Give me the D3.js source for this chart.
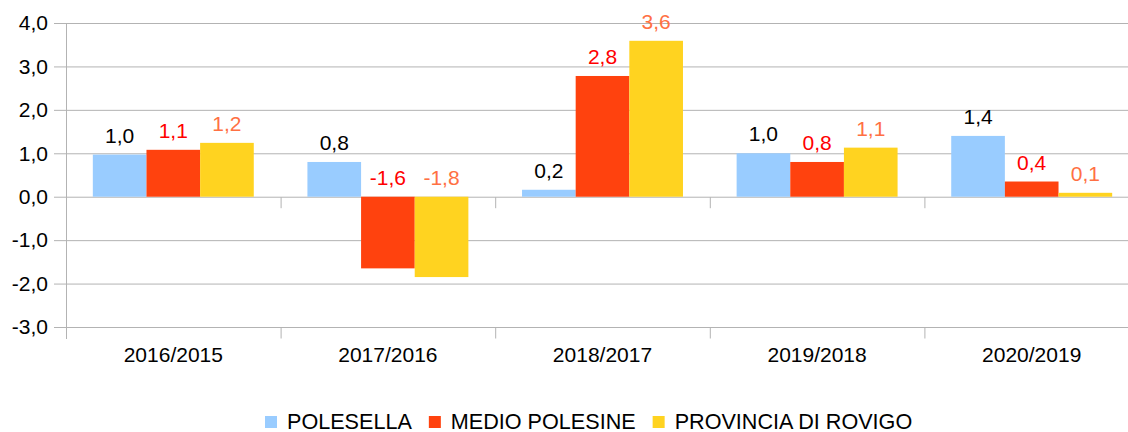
<!DOCTYPE html>
<html>
<head>
<meta charset="utf-8">
<script src="https://cdn.jsdelivr.net/npm/d3@7"></script>
<style>
  body { margin: 0; background: #fff; }
  text { font-family: "Liberation Sans", Arial, sans-serif; }
</style>
</head>
<body>
<script>
var categories = ["2016/2015", "2017/2016", "2018/2017", "2019/2018", "2020/2019"];
var seriesNames = ["POLESELLA", "MEDIO POLESINE", "PROVINCIA DI ROVIGO"];
var polesella = [0.97, 0.8, 0.16, 1.0, 1.4];
var medioPolesine = [1.08, -1.65, 2.78, 0.8, 0.35];
var provinciaRovigo = [1.24, -1.85, 3.59, 1.13, 0.09];
var labels = [
	["1,0", "0,8", "0,2", "1,0", "1,4"],
	["1,1", "-1,6", "2,8", "0,8", "0,4"],
	["1,2", "-1,8", "3,6", "1,1", "0,1"]
];
var yTicks = [-3, -2, -1, 0, 1, 2, 3, 4];

var barColors = ["#99ccff", "#ff420e", "#ffd320"];
var labelColors = ["#000000", "#ff0000", "#ff7043"];

var width = 1128,
	height = 432,
	plotLeft = 66,
	plotRight = 1139,
	plotTop = 23,
	plotBottom = 327;

var allSeries = [polesella, medioPolesine, provinciaRovigo];

var svg = d3.select("body").append("svg")
	.attr("width", width)
	.attr("height", height);

var x = d3.scaleBand(categories, [plotLeft, plotRight]).padding(0);
var x1 = d3.scaleBand(seriesNames, [0, x.bandwidth()]).paddingInner(0).paddingOuter(0.5);
var y = d3.scaleLinear([-3, 4], [plotBottom, plotTop]);
var xEdge = d3.scaleLinear([0, categories.length], [plotLeft, plotRight]);

// grid + y axis
var yAxis = svg.append("g")
	.attr("transform", "translate(" + plotLeft + ",0)")
	.call(d3.axisLeft(y).tickValues(yTicks).tickSize(12)
		.tickFormat(function(d) { return d3.format(".1f")(d).replace(".", ",").replace("−", "-"); }));
yAxis.select(".domain").remove();
yAxis.selectAll(".tick line").attr("stroke", "#b3b3b3");
yAxis.selectAll(".tick text")
	.attr("x", -18)
	.attr("font-size", 21)
	.attr("fill", "#000")
	.style("font-family", "'Liberation Sans', Arial, sans-serif");

svg.append("g").selectAll("line")
	.data(yTicks)
	.enter().append("line")
	.attr("x1", plotLeft).attr("x2", plotRight)
	.attr("y1", function(d) { return y(d) + 0.5; })
	.attr("y2", function(d) { return y(d) + 0.5; })
	.attr("stroke", "#b3b3b3");

// bars
var groups = svg.append("g").selectAll("g")
	.data(categories)
	.enter().append("g")
	.attr("transform", function(d) { return "translate(" + x(d) + ",0)"; });

allSeries.forEach(function(vals, s) {
	groups.append("rect")
		.attr("x", x1(seriesNames[s]))
		.attr("width", x1.bandwidth())
		.attr("y", function(d, i) { return y(Math.max(0, vals[i])); })
		.attr("height", function(d, i) { return Math.abs(y(vals[i]) - y(0)); })
		.attr("fill", barColors[s]);
	groups.append("text")
		.attr("x", x1(seriesNames[s]) + x1.bandwidth() / 2)
		.attr("y", function(d, i) { return y(Math.max(0, vals[i])) - 12; })
		.attr("text-anchor", "middle")
		.attr("font-size", 21)
		.attr("fill", labelColors[s])
		.text(function(d, i) { return labels[s][i]; });
});

// left axis line
svg.append("line")
	.attr("x1", plotLeft + 0.5).attr("x2", plotLeft + 0.5)
	.attr("y1", plotTop).attr("y2", plotBottom + 12)
	.attr("stroke", "#b3b3b3");

// category tick marks at zero line and bottom
[y(0), plotBottom].forEach(function(yy) {
	var g = svg.append("g")
		.attr("transform", "translate(0," + (yy + 0.5) + ")")
		.call(d3.axisBottom(xEdge).tickValues(d3.range(1, categories.length)).tickSize(11).tickFormat(""));
	g.select(".domain").remove();
	g.selectAll(".tick line").attr("stroke", "#b3b3b3");
});

// category labels
var xAxis = svg.append("g")
	.attr("transform", "translate(0," + plotBottom + ")")
	.call(d3.axisBottom(x).tickSize(0));
xAxis.select(".domain").remove();
xAxis.selectAll(".tick text")
	.attr("y", 20)
	.attr("font-size", 21)
	.attr("fill", "#000")
	.style("font-family", "'Liberation Sans', Arial, sans-serif");

// legend
var legend = svg.append("g");
var lx = 265;
seriesNames.forEach(function(name, s) {
	legend.append("rect")
		.attr("x", lx).attr("y", 416)
		.attr("width", 12).attr("height", 12)
		.attr("fill", barColors[s]);
	var t = legend.append("text")
		.attr("x", lx + 22).attr("y", 429)
		.attr("font-size", 21.6)
		.attr("fill", "#000")
		.text(name);
	lx += 22 + t.node().getComputedTextLength() + 17;
});
</script>
</body>
</html>
